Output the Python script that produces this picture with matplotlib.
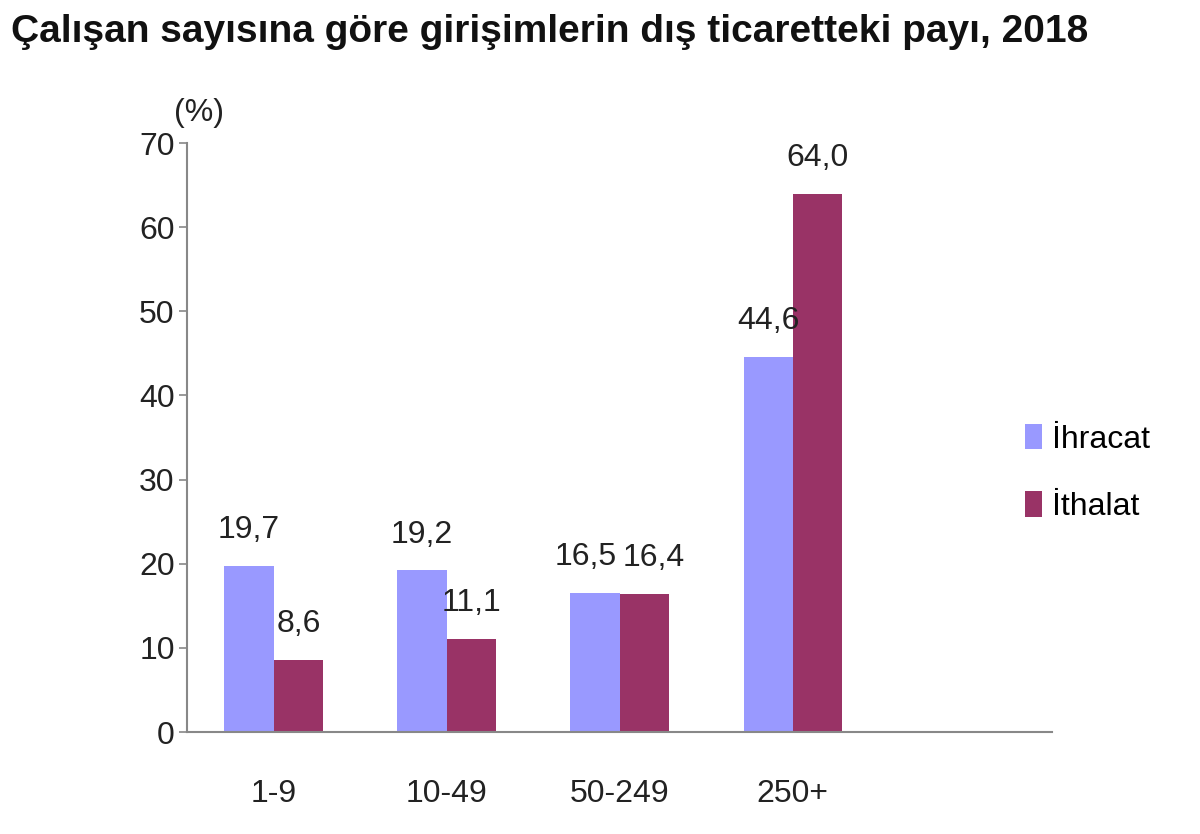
import matplotlib
matplotlib.use('Agg')
import matplotlib.pyplot as plt
import numpy

plt.rcParams['font.family'] = ['Liberation Sans', 'DejaVu Sans']

categories = ['1-9', '10-49', '50-249', '250+']
ihracat = [19.7, 19.2, 16.5, 44.6]
ithalat = [8.6, 11.1, 16.4, 64.0]
series_names = ['İhracat', 'İthalat']
title = 'Çalışan sayısına göre girişimlerin dış ticaretteki payı, 2018'

col_ihr = '#9999ff'
col_ith = '#993366'
grey = '#888888'
fs = 23


def fmt(v):
    return ('%.1f' % v).replace('.', ',')


fig = plt.figure(figsize=(12, 8.34), dpi=100)
ax = fig.add_axes([0.156, 0.1223, 0.721, 0.7062])

x = numpy.arange(len(categories))
w = 0.285
b1 = ax.bar(x - w / 2, ihracat, w, color=col_ihr, label=series_names[0])
b2 = ax.bar(x + w / 2, ithalat, w, color=col_ith, label=series_names[1])

for k in range(len(categories)):
    # labels of bars with near equal height would collide, push them apart
    nudge = 7 if abs(ihracat[k] - ithalat[k]) < 5 else 0
    for bar, v, sgn in ((b1[k], ihracat[k], -1), (b2[k], ithalat[k], 1)):
        ax.annotate(fmt(v), (bar.get_x() + bar.get_width() / 2, v),
                    xytext=(sgn * nudge, 15), textcoords='offset points',
                    ha='center', va='bottom', fontsize=fs, color='#222222')

# one empty slot on the right, as in the original
ax.set_xlim(-0.5, len(categories) + 0.5)
ax.set_ylim(0, 70)
ax.set_yticks(numpy.arange(0, 71, 10))
ax.set_xticks(x)
ax.set_xticklabels(categories)

for side in ('top', 'right'):
    ax.spines[side].set_visible(False)
ax.spines['left'].set_color(grey)
ax.spines['bottom'].set_color(grey)
ax.spines['left'].set_linewidth(1.5)
ax.spines['bottom'].set_linewidth(1.5)
ax.tick_params(axis='y', length=6, width=1.2, color=grey, labelsize=fs,
               pad=3, labelcolor='#222222')
ax.tick_params(axis='x', length=0, labelsize=fs, pad=34,
               labelcolor='#222222')

ax.text(-0.015, 1.025, '(%)', transform=ax.transAxes, fontsize=fs,
        ha='left', va='bottom', color='#222222')

fig.text(0.009, 0.962, title, fontsize=28, fontweight='bold',
         ha='left', va='center', color='#111111')

fig.legend(handles=[b1, b2], loc='center left',
           bbox_to_anchor=(0.83, 0.433), frameon=False, fontsize=fs,
           handlelength=0.55, handleheight=0.85, handletextpad=0.3,
           labelspacing=1.15)

fig.savefig('out.png', dpi=100)
